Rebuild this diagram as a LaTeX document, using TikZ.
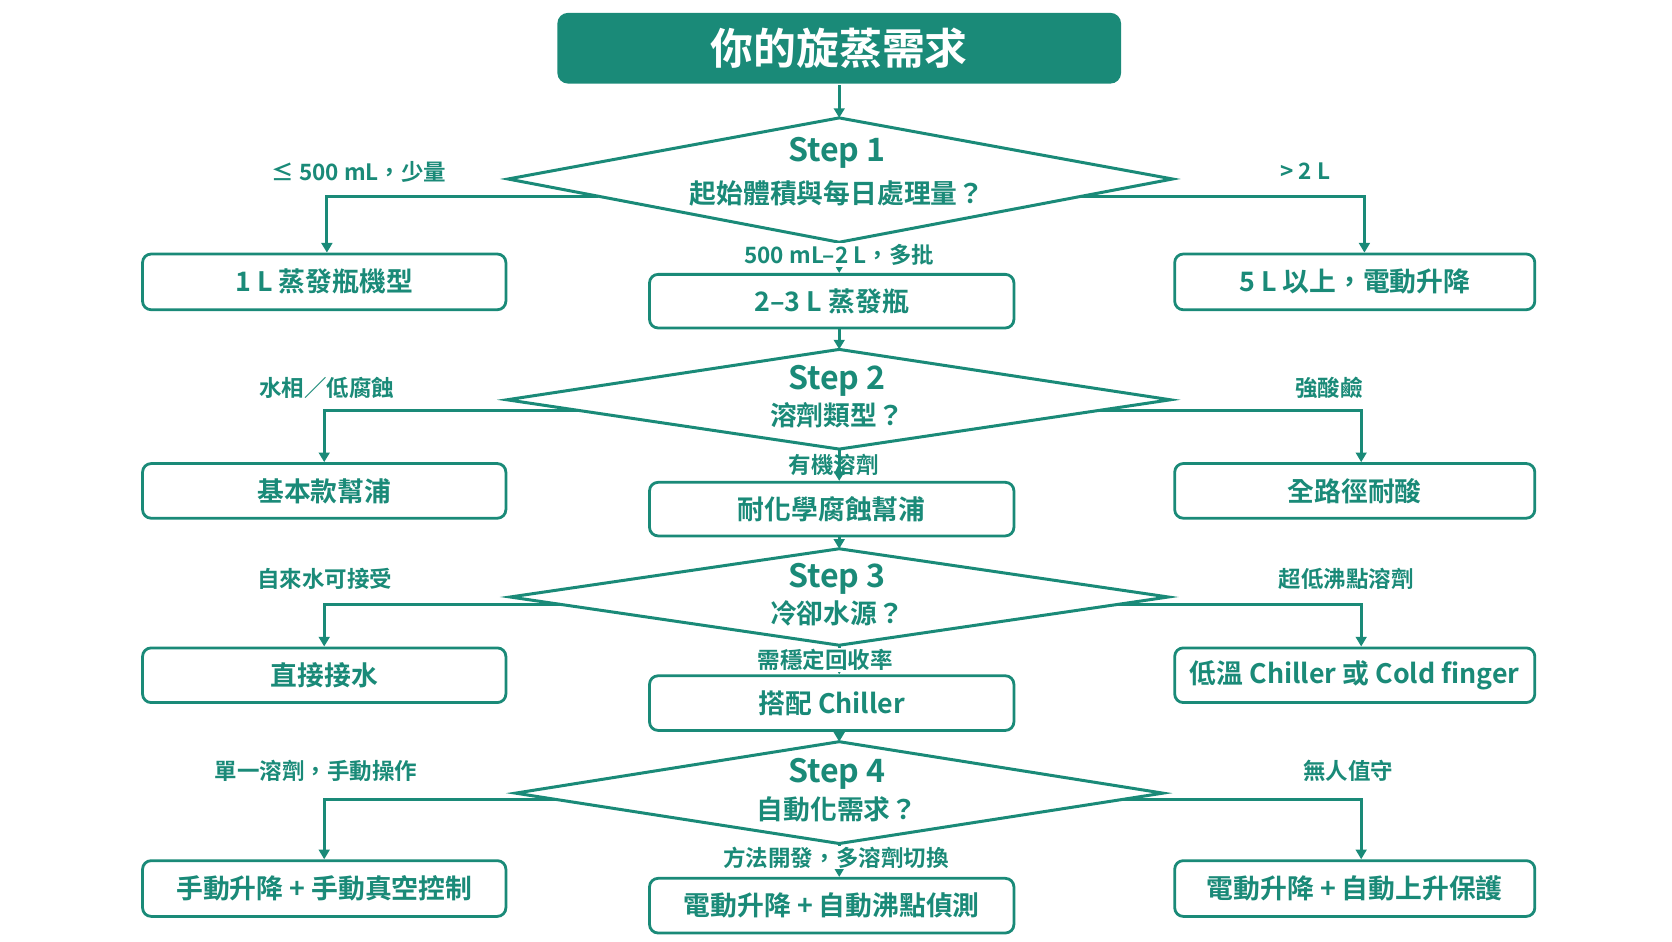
\documentclass[tikz,border=0pt]{standalone}
\usepackage{fontspec}
\setmainfont{Noto Sans CJK TC}[BoldFont={* Bold}]
\usetikzlibrary{arrows.meta}
\definecolor{tl}{HTML}{1A8A78}
\begin{document}
\begin{tikzpicture}[x=1pt,y=-1pt,
  line width=2.8pt, tl,
  arr/.style={draw=tl,-{Triangle[length=9pt,width=10pt]}},
  rbox/.style={draw=tl,rounded corners=8pt,line width=2.6pt,fill=white,font=\bfseries\fontsize{25}{28}\selectfont,text=tl},
  lab/.style={font=\bfseries\fontsize{21}{24}\selectfont,text=tl},
  stp/.style={font=\bfseries\fontsize{30}{32}\selectfont,text=tl},
  q/.style={font=\bfseries\fontsize{25}{28}\selectfont,text=tl}]
\useasboundingbox (0,0) rectangle (1560,878);
% title
\node[fill=tl,rounded corners=10pt,minimum width=526pt,minimum height=66pt,text=white,font=\bfseries\fontsize{40}{44}\selectfont] (title) at (783,45) {你的旋蒸需求};
% ---------- Step 1
\coordinate (d1t) at (783,110); \coordinate (d1l) at (474,167); \coordinate (d1r) at (1094,167); \coordinate (d1b) at (783,226);
\draw[line join=miter] (d1t)--(d1r)--(d1b)--(d1l)--cycle;
\draw[arr] (title.south) -- (d1t);
\node[stp] (s1) at (781,143) {Step 1};
\node[q] (q1) at (781,180) {起始體積與每日處理量？};
\node[rbox,minimum width=339pt,minimum height=52pt] (b1l) at (302.5,263) {1 L 蒸發瓶機型};
\node[rbox,minimum width=340pt,minimum height=50pt] (b1c) at (776,281) {2–3 L 蒸發瓶};
\node[rbox,minimum width=336pt,minimum height=52pt] (b1r) at (1264,263) {5 L 以上，電動升降};
\coordinate (e1l) at (558,183); \coordinate (e1r) at (1008,183);
\draw[arr] (e1l) -| ([xshift=2.5pt]b1l.north);
\draw[arr] (e1r) -| ([xshift=9pt]b1r.north);
\draw[arr] (d1b) -- ([xshift=7pt]b1c.north);
\node[lab] at (335,160) {≤ 500 mL，少量};
\node[lab] at (1218,160) {> 2 L};
\node[lab,fill=white,inner sep=1pt] at (783,238) {500 mL–2 L，多批};
% ---------- Step 2
\coordinate (d2t) at (783,326); \coordinate (d2l) at (473,373); \coordinate (d2r) at (1092,373); \coordinate (d2b) at (783,419);
\draw[arr] ([xshift=7pt]b1c.south) -- (d2t);
\draw[line join=miter] (d2t)--(d2r)--(d2b)--(d2l)--cycle;
\node[stp] at (781,355) {Step 2};
\node[q] at (781,387) {溶劑類型？};
\node[rbox,minimum width=339pt,minimum height=51pt] (b2l) at (302.5,458) {基本款幫浦};
\node[rbox,minimum width=340pt,minimum height=50pt] (b2c) at (776,475) {耐化學腐蝕幫浦};
\node[rbox,minimum width=336pt,minimum height=51pt] (b2r) at (1264,458) {全路徑耐酸};
\coordinate (e2l) at (540,383); \coordinate (e2r) at (1025,383);
\draw[arr] (e2l) -| (b2l.north);
\draw[arr] (e2r) -| ([xshift=6pt]b2r.north);
\draw[arr] (d2b) -- ([xshift=7pt]b2c.north);
\node[lab] at (305,362) {水相／低腐蝕};
\node[lab] at (1240,362) {強酸鹼};
\node[lab] at (778,434) {有機溶劑};
% ---------- Step 3
\coordinate (d3t) at (783,512); \coordinate (d3l) at (476,557); \coordinate (d3r) at (1090,557); \coordinate (d3b) at (783,602);
\draw[arr] ([xshift=7pt]b2c.south) -- (d3t);
\draw[line join=miter] (d3t)--(d3r)--(d3b)--(d3l)--cycle;
\node[stp] at (781,540) {Step 3};
\node[q] at (781,572) {冷卻水源？};
\node[rbox,minimum width=339pt,minimum height=51pt] (b3l) at (302.5,630) {直接接水};
\node[rbox,minimum width=340pt,minimum height=51pt] (b3c) at (776,656) {搭配 Chiller};
\node[rbox,minimum width=336pt,minimum height=51pt] (b3r) at (1264,630) {低溫 Chiller 或 Cold finger};
\coordinate (e3l) at (524,564); \coordinate (e3r) at (1042,564);
\draw[arr] (e3l) -| (b3l.north);
\draw[arr] (e3r) -| ([xshift=6pt]b3r.north);
\draw[arr] (d3b) -- ([xshift=7pt]b3c.north);
\node[lab] at (303,540) {自來水可接受};
\node[lab] at (1256,540) {超低沸點溶劑};
\node[lab,fill=white,inner sep=1pt] at (770,616) {需穩定回收率};
% ---------- Step 4
\coordinate (d4t) at (783,692); \coordinate (d4l) at (481,740); \coordinate (d4r) at (1085,740); \coordinate (d4b) at (783,787);
\draw[arr] ([xshift=7pt]b3c.south) -- (d4t);
\draw[line join=miter] (d4t)--(d4r)--(d4b)--(d4l)--cycle;
\node[stp] at (781,722) {Step 4};
\node[q] at (781,755) {自動化需求？};
\node[rbox,minimum width=339pt,minimum height=52pt] (b4l) at (302.5,829) {手動升降 + 手動真空控制};
\node[rbox,minimum width=340pt,minimum height=51pt] (b4c) at (776,845) {電動升降 + 自動沸點偵測};
\node[rbox,minimum width=336pt,minimum height=52pt] (b4r) at (1264,829) {電動升降 + 自動上升保護};
\coordinate (e4l) at (519,746); \coordinate (e4r) at (1048,746);
\draw[arr] (e4l) -| (b4l.north);
\draw[arr] (e4r) -| ([xshift=6pt]b4r.north);
\draw[arr] (d4b) -- ([xshift=7pt]b4c.north);
\node[lab] at (295,719) {單一溶劑，手動操作};
\node[lab] at (1258,719) {無人值守};
\node[lab,fill=white,inner sep=1pt] at (780,800) {方法開發，多溶劑切換};
\end{tikzpicture}
\end{document}
